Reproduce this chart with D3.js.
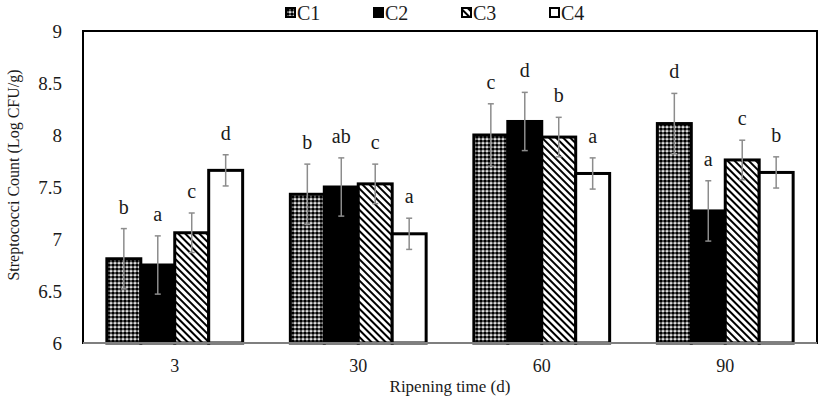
<!DOCTYPE html>
<html>
<head>
<meta charset="utf-8">
<script src="https://cdn.jsdelivr.net/npm/d3@7"></script>
<style>
  body { margin: 0; background: #fff; }
  text { font-family: "Liberation Serif", "Times New Roman", serif; fill: #1a1a1a; }
</style>
</head>
<body>
<div id="chart"></div>
<script>
// categories and series
const days = ["3", "30", "60", "90"];
const groups = ["C1", "C2", "C3", "C4"];
const C1 = [6.81, 7.43, 8.00, 8.11];
const C2 = [6.75, 7.50, 8.13, 7.27];
const C3 = [7.06, 7.53, 7.98, 7.76];
const C4 = [7.66, 7.05, 7.63, 7.64];
// error (sd)
const C1err = [0.29, 0.29, 0.30, 0.29];
const C2err = [0.28, 0.28, 0.28, 0.29];
const C3err = [0.19, 0.19, 0.19, 0.19];
const C4err = [0.15, 0.15, 0.15, 0.15];
// significance letters
const C1let = ["b", "b", "c", "d"];
const C2let = ["a", "ab", "d", "a"];
const C3let = ["c", "c", "b", "c"];
const C4let = ["d", "a", "a", "b"];
const yTicks = [6, 6.5, 7, 7.5, 8, 8.5, 9];

const values = [C1, C2, C3, C4];
const errs = [C1err, C2err, C3err, C4err];
const lets = [C1let, C2let, C3let, C4let];

const totalWidth = 827, totalHeight = 399;
const margin = {top: 31, right: 10, bottom: 56, left: 83};
const width = totalWidth - margin.left - margin.right;
const height = totalHeight - margin.top - margin.bottom;

const svgRoot = d3.select("#chart").append("svg")
  .attr("width", totalWidth)
  .attr("height", totalHeight);

// patterns
const defs = svgRoot.append("defs");
const dots = defs.append("pattern")
  .attr("id", "dots").attr("patternUnits", "userSpaceOnUse")
  .attr("width", 4).attr("height", 4);
dots.append("rect").attr("width", 4).attr("height", 4).attr("fill", "#fff");
dots.append("circle").attr("cx", 2).attr("cy", 2).attr("r", 1.85).attr("fill", "#000");

const hatch = defs.append("pattern")
  .attr("id", "hatch").attr("patternUnits", "userSpaceOnUse")
  .attr("width", 5).attr("height", 5)
  .attr("patternTransform", "rotate(45)");
hatch.append("rect").attr("width", 5).attr("height", 5).attr("fill", "#fff");
hatch.append("rect").attr("width", 5).attr("height", 2).attr("fill", "#000");

const fills = ["url(#dots)", "#000", "url(#hatch)", "#fff"];

const svg = svgRoot.append("g")
  .attr("transform", "translate(" + margin.left + "," + margin.top + ")");

const x = d3.scaleBand()
  .domain(days)
  .range([0, width])
  .paddingInner(0.26)
  .paddingOuter(0.13);

const xs = d3.scaleBand()
  .domain(groups)
  .range([0, x.bandwidth()]);

const y = d3.scaleLinear()
  .domain([6, 9])
  .range([height, 0]);

// frame
svg.append("rect")
  .attr("width", width).attr("height", height)
  .attr("fill", "none").attr("stroke", "#000").attr("stroke-width", 2);

// bars
const rows = [];
days.forEach((d, i) => {
  groups.forEach((g, j) => {
    rows.push({day: d, group: g, j: j, v: values[j][i], e: errs[j][i], l: lets[j][i]});
  });
});

svg.selectAll("rect.bar")
  .data(rows)
  .enter()
  .append("rect")
  .attr("class", "bar")
  .attr("x", d => x(d.day) + xs(d.group))
  .attr("y", d => y(d.v))
  .attr("width", xs.bandwidth())
  .attr("height", d => height - y(d.v))
  .attr("fill", d => fills[d.j])
  .attr("stroke", "#000")
  .attr("stroke-width", 3);

// error bars
const eb = svg.selectAll("g.err")
  .data(rows)
  .enter()
  .append("g")
  .attr("class", "err")
  .attr("transform", d => "translate(" + (x(d.day) + xs(d.group) + xs.bandwidth() / 2) + ",0)");
eb.append("line")
  .attr("y1", d => y(d.v + d.e)).attr("y2", d => y(d.v - d.e))
  .attr("stroke", "#8c8c8c").attr("stroke-width", 1.5);
eb.append("line")
  .attr("x1", -3).attr("x2", 3)
  .attr("y1", d => y(d.v + d.e)).attr("y2", d => y(d.v + d.e))
  .attr("stroke", "#8c8c8c").attr("stroke-width", 1.5);
eb.append("line")
  .attr("x1", -3).attr("x2", 3)
  .attr("y1", d => y(d.v - d.e)).attr("y2", d => y(d.v - d.e))
  .attr("stroke", "#8c8c8c").attr("stroke-width", 1.5);
eb.append("text")
  .attr("y", d => y(d.v + d.e) - 15)
  .attr("text-anchor", "middle")
  .style("font-size", "20px")
  .text(d => d.l);

// x axis line
svg.append("line")
  .attr("x1", 0).attr("x2", width)
  .attr("y1", height).attr("y2", height)
  .attr("stroke", "#7f7f7f").attr("stroke-width", 2);

// x tick labels
svg.selectAll("text.xt")
  .data(days)
  .enter()
  .append("text")
  .attr("class", "xt")
  .attr("x", d => x(d) + x.bandwidth() / 2)
  .attr("y", height + 29)
  .attr("text-anchor", "middle")
  .style("font-size", "18px")
  .text(d => d);

// y tick labels
svg.selectAll("text.yt")
  .data(yTicks)
  .enter()
  .append("text")
  .attr("class", "yt")
  .attr("x", -21)
  .attr("y", d => y(d) + 7)
  .attr("text-anchor", "end")
  .style("font-size", "19px")
  .text(d => String(d));

// axis titles
svg.append("text")
  .attr("x", width / 2)
  .attr("y", height + 49)
  .attr("text-anchor", "middle")
  .style("font-size", "17px")
  .text("Ripening time (d)");

svg.append("text")
  .attr("transform", "translate(" + (-64) + "," + (height / 2 - 12) + ") rotate(-90)")
  .attr("text-anchor", "middle")
  .style("font-size", "16px")
  .text("Streptococci Count (Log CFU/g)");

// legend
const legend = svgRoot.append("g")
  .selectAll("g")
  .data(groups)
  .enter()
  .append("g")
  .attr("transform", (d, i) => "translate(" + (286 + i * 88) + ",8)");
legend.append("rect")
  .attr("width", 9).attr("height", 9)
  .attr("fill", (d, i) => fills[i])
  .attr("stroke", "#000").attr("stroke-width", 2);
legend.append("text")
  .attr("x", 11).attr("y", 12)
  .style("font-size", "20px")
  .text(d => d);
</script>
</body>
</html>
